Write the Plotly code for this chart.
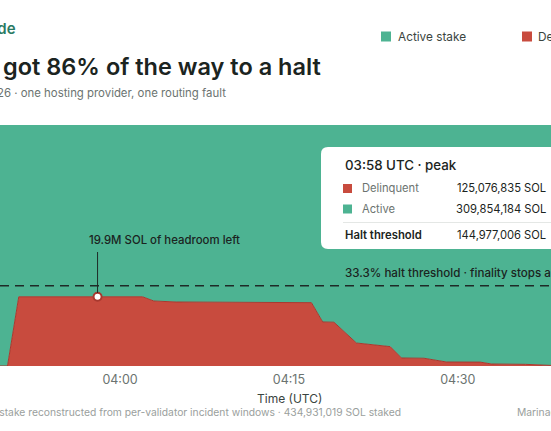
import plotly.graph_objects as go

# readings of the incident timeline (UTC)
times = ["03:49", "03:50", "03:51", "03:58", "04:02", "04:03", "04:05", "04:17",
         "04:18", "04:19", "04:21", "04:24", "04:25", "04:27", "04:29", "04:32",
         "04:33", "04:36", "04:38", "04:39"]
delinquent = [0, 0, 124900000, 125076835, 124900000, 117300000, 115500000, 114300000,
              79500000, 79000000, 41500000, 35000000, 14500000, 14000000, 7200000, 7000000,
              3600000, 3000000, 600000, 400000]
total_stake = 434931019
halt_threshold = 144977006
peak_time = "03:58"
peak_delinquent = 125076835
peak_active = 309854184

day = "2026-01-01 "
x = [day + t + ":00" for t in times]
active = [total_stake - d for d in delinquent]

W, H = 551, 431
PLOT_TOP, PLOT_BOTTOM = 125, 366


def px(v):
    return v / W


def py(v):
    return (PLOT_BOTTOM - v) / (PLOT_BOTTOM - PLOT_TOP)


GREEN = "#4db392"
RED = "#c84b3e"
DARK = "#1b2421"
GREY = "#6b7370"
LIGHT = "#9aa09d"
FONT = "Inter"

fig = go.Figure()
fig.add_trace(go.Scatter(x=x, y=delinquent, stackgroup="s", mode="lines",
                         line=dict(color="#a8392f", width=1), fillcolor=RED,
                         name="Delinquent", hoverinfo="skip"))
fig.add_trace(go.Scatter(x=x, y=active, stackgroup="s", mode="lines",
                         line=dict(color=GREEN, width=0), fillcolor=GREEN,
                         name="Active stake", hoverinfo="skip"))
fig.add_trace(go.Scatter(x=[day + peak_time + ":00"], y=[peak_delinquent], mode="markers",
                         marker=dict(size=8, color="white", line=dict(color="#a8392f", width=2)),
                         hoverinfo="skip"))

shapes = []
# halt threshold
shapes.append(dict(type="line", xref="paper", yref="y", x0=0, x1=1,
                   y0=halt_threshold, y1=halt_threshold,
                   line=dict(color="#1f2a27", width=1.5, dash="9px,6px")))
# headroom leader
shapes.append(dict(type="line", xref="x", yref="paper",
                   x0=day + peak_time + ":00", x1=day + peak_time + ":00",
                   y0=py(293), y1=py(252), line=dict(color="#1f2a27", width=1)))

# tooltip card with rounded corners
bx0, bx1, by0, by1, r = 321, 570, 147, 249, 7
rx, ry = r / W, r / (PLOT_BOTTOM - PLOT_TOP)
path = (f"M {px(bx0)+rx},{py(by0)} L {px(bx1)-rx},{py(by0)} "
        f"Q {px(bx1)},{py(by0)} {px(bx1)},{py(by0)-ry} L {px(bx1)},{py(by1)+ry} "
        f"Q {px(bx1)},{py(by1)} {px(bx1)-rx},{py(by1)} L {px(bx0)+rx},{py(by1)} "
        f"Q {px(bx0)},{py(by1)} {px(bx0)},{py(by1)+ry} L {px(bx0)},{py(by0)-ry} "
        f"Q {px(bx0)},{py(by0)} {px(bx0)+rx},{py(by0)} Z")
shapes.append(dict(type="path", xref="paper", yref="paper", path=path,
                   fillcolor="white", line=dict(width=0), layer="above"))
shapes.append(dict(type="line", xref="paper", yref="paper", x0=px(343), x1=px(560),
                   y0=py(222.5), y1=py(222.5), line=dict(color="#e4e7e5", width=1),
                   layer="above"))


def square(x0, yc, color, size=9):
    shapes.append(dict(type="rect", xref="paper", yref="paper", x0=px(x0), x1=px(x0 + size),
                       y0=py(yc + size / 2), y1=py(yc - size / 2),
                       fillcolor=color, line=dict(width=0), layer="above"))


square(343, 188.5, RED)
square(343, 209, GREEN)
square(381, 36.5, GREEN, 10)
square(522, 36.5, RED, 10)

ann = []


def text(t, x0, y0, anchor="left", size=13, color=DARK, weight=400):
    ann.append(dict(text=t, xref="paper", yref="paper", x=px(x0), y=py(y0),
                    xanchor=anchor, yanchor="middle", showarrow=False,
                    font=dict(family=FONT, size=size, color=color, weight=weight)))


text("Marinade", 17.5, 28, "right", 15, "#2a7a63", 600)
text("It got 86% of the way to a halt", 323, 66, "right", 23.5, DARK, 600)
text("January 2026 · one hosting provider, one routing fault", 228, 93, "right", 11.4, GREY)
text("Active stake", 396, 36.5, "left", 11.8, "#3a4440")
text("Delinquent", 536, 36.5, "left", 11.8, "#3a4440")

text("03:58 UTC · peak", 343, 165, "left", 13.3, DARK, 500)
text("Delinquent", 360, 188, "left", 11.2, GREY)
text(f"{peak_delinquent:,} SOL", 548, 188, "right", 11.2, DARK)
text("Active", 360, 209, "left", 11.2, GREY)
text(f"{peak_active:,} SOL", 548, 209, "right", 11.2, DARK)
text("Halt threshold", 343, 235, "left", 11.3, DARK, 600)
text(f"{halt_threshold:,} SOL", 548, 235, "right", 11.2, DARK)

text("19.9M SOL of headroom left", 87, 240, "left", 11.4, DARK, 500)
text("33.3% halt threshold · finality stops above this line", 343, 273, "left", 11.6, DARK, 500)

text("Time (UTC)", 289, 398, "center", 12, "#3a4440")
text(f"Delinquent stake reconstructed from per-validator incident windows · {total_stake:,} SOL staked",
     403, 412, "right", 10.3, LIGHT)
text("Marinade", 515, 412, "left", 10.3, LIGHT)

fig.update_layout(
    width=W, height=H,
    margin=dict(l=0, r=0, t=PLOT_TOP, b=H - PLOT_BOTTOM),
    paper_bgcolor="white", plot_bgcolor="white",
    showlegend=False,
    shapes=shapes, annotations=ann,
    font=dict(family=FONT),
    xaxis=dict(type="date", range=[day + "03:49:20", day + "04:38:17"],
               tick0=day + "04:00:00", dtick=15 * 60 * 1000, tickformat="%H:%M",
               showgrid=False, zeroline=False, showline=False, ticks="",
               ticklabelstandoff=4,
               tickfont=dict(family=FONT, size=12.5, color=GREY)),
    yaxis=dict(range=[0, total_stake], visible=False, showgrid=False, zeroline=False),
)

# drop the browser's default page margin so the figure sits at the window corner
fig.write_html("out.html", config={"displayModeBar": False},
               post_script="document.body.style.margin='0';document.body.style.overflow='hidden';")
